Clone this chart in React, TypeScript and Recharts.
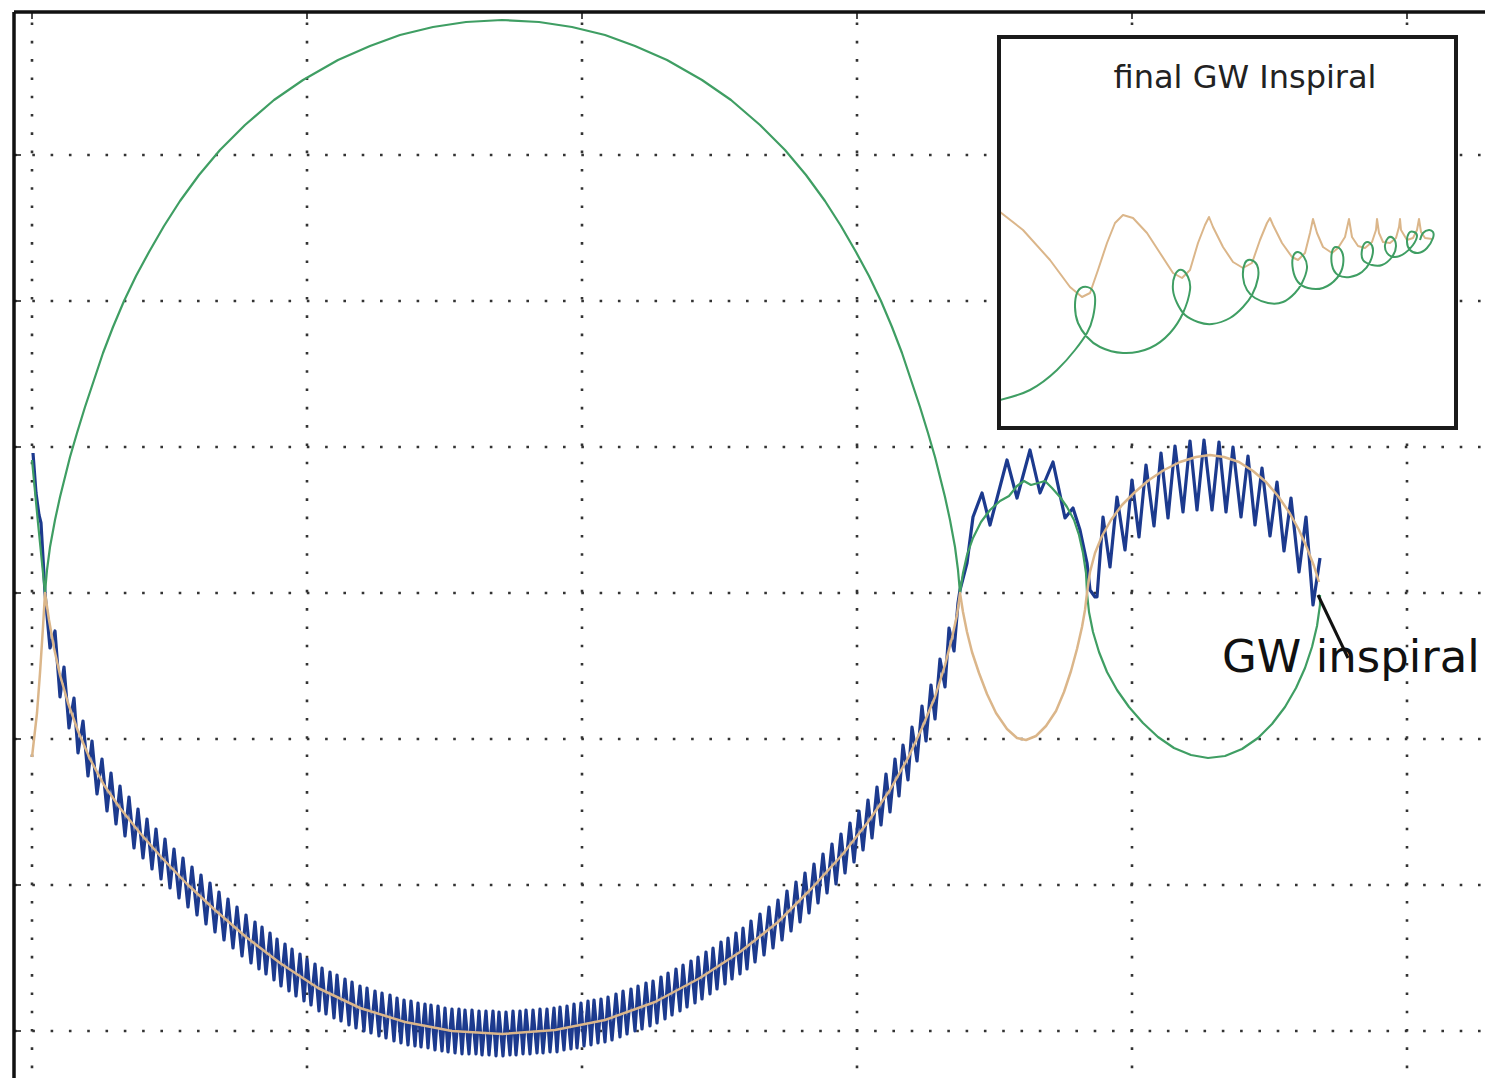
import React from 'react';
import { ComposedChart, Line, ReferenceLine, XAxis, YAxis } from 'recharts';

// axes extent and grid positions
const xDomain = [-18, 1470];
const yDomain = [-585, 581];
const xTicks = [0, 275, 550, 825, 1100, 1375];
const yTicks = [-438, -292, -146, 0, 146, 292, 438];

// [x, y] pairs, in the order the bodies travel
const greenOrbit = [
  [0, 133], [6, 70], [13, 0],
  [15, 23], [18, 46], [23, 73], [28, 96], [33, 116], [38, 136], [45, 160], [53, 186], [62, 213], [71, 240],
  [81, 266], [92, 292], [104, 317], [117, 341], [132, 367], [148, 392], [167, 418], [188, 443], [213, 468],
  [242, 493], [271, 513], [306, 533], [338, 547], [368, 558], [401, 566], [434, 571], [470, 573],
  [507, 571], [540, 566], [573, 558], [603, 547], [635, 533], [670, 513], [699, 493], [728, 468], [753, 443],
  [774, 418], [793, 392], [809, 367], [824, 341], [837, 317], [849, 292], [860, 266], [870, 240], [879, 213],
  [888, 186], [896, 160], [903, 136], [908, 116], [913, 96], [918, 73], [923, 46], [926, 23], [928, 0],
  [931, 20], [935, 38], [941, 55], [949, 71], [958, 83], [968, 92], [977, 97], [985, 107], [992, 112],
  [999, 108], [1006, 110], [1013, 112], [1020, 105], [1028, 96], [1035, 86], [1042, 73], [1047, 58],
  [1051, 40], [1054, 20], [1055, 0],
  [1057, -19], [1061, -39], [1067, -59], [1075, -79], [1085, -97], [1097, -114], [1111, -130], [1126, -144],
  [1142, -155], [1159, -162], [1176, -165], [1193, -163], [1210, -156], [1226, -145], [1240, -131],
  [1253, -114], [1264, -95], [1273, -75], [1280, -54], [1285, -33], [1288, -12], [1288, -2],
];

const tanOrbit = [
  [0, -164], [5, -120], [8, -80], [11, -34], [13, 0],
  [17, -27], [22, -55], [28, -82], [36, -110], [46, -138], [58, -166], [72, -192], [88, -215], [108, -240],
  [130, -265], [155, -291], [183, -317], [214, -344], [248, -370], [286, -395], [328, -415], [373, -429],
  [420, -438], [470, -441], [523, -437], [573, -427], [623, -409], [668, -385], [708, -359], [746, -329],
  [780, -295], [810, -262], [836, -229], [858, -197], [876, -165], [890, -135], [903, -104], [913, -72],
  [920, -45], [925, -22], [928, 0],
  [931, -19], [935, -39], [940, -59], [947, -80], [955, -101], [964, -120], [975, -136], [985, -145],
  [994, -147], [1004, -143], [1014, -133], [1024, -118], [1032, -99], [1039, -78], [1045, -56], [1050, -34],
  [1053, -17], [1055, 0],
  [1058, 21], [1063, 40], [1070, 57], [1079, 73], [1090, 88], [1103, 101], [1117, 113], [1132, 123],
  [1148, 131], [1164, 136], [1178, 138], [1192, 136], [1207, 131], [1221, 122], [1234, 111], [1246, 97],
  [1257, 81], [1267, 63], [1275, 45], [1282, 27], [1287, 11],
];

const blueOrbit = [
  [1, 140], [4, 100], [7, 78], [9, 70], [11, 35], [13, 0],
  [18, -55], [23, -38], [28, -104], [32, -74], [37, -135], [42, -105], [46, -160], [51, -128], [56, -183],
  [60, -148], [65, -201], [70, -166],
  [75, -218], [79, -180], [84, -231], [88, -193], [93, -243], [97, -204], [102, -255], [106, -216], [111, -265],
  [115, -226], [120, -276], [124, -236], [129, -286], [133, -246], [138, -295], [142, -256], [147, -305],
  [151, -265], [156, -314], [160, -274], [165, -322], [169, -282], [174, -331], [178, -290], [183, -339],
  [187, -299], [192, -347], [196, -306], [201, -355], [205, -314], [210, -363], [214, -322], [219, -370],
  [223, -329], [227, -376], [230, -334], [234, -381], [238, -340], [242, -387], [245, -346], [249, -393],
  [253, -351], [257, -398], [260, -356], [264, -403], [268, -361], [272, -408], [275, -366], [279, -412],
  [283, -371], [287, -418], [290, -375], [294, -421], [298, -379], [302, -425], [305, -382], [309, -428],
  [313, -386], [317, -432], [320, -389], [324, -435], [328, -393], [332, -438], [335, -395], [339, -440],
  [343, -398], [347, -443], [350, -400], [354, -445], [358, -402], [362, -448], [365, -405], [369, -450],
  [372, -407], [376, -452], [379, -408], [383, -453], [386, -410], [389, -454], [393, -411], [396, -455],
  [399, -412], [403, -457], [406, -413], [410, -458], [413, -415], [416, -459], [420, -416], [423, -460],
  [427, -416], [430, -461], [433, -417], [437, -461], [440, -417], [444, -461], [447, -418], [450, -462],
  [454, -418], [457, -462], [461, -418], [464, -463], [467, -419], [471, -463], [474, -419], [478, -462],
  [481, -418], [484, -462], [488, -418], [491, -461], [494, -417], [498, -461], [501, -417], [505, -460],
  [508, -416], [511, -460], [515, -416], [518, -459], [522, -415], [525, -459], [528, -414], [532, -457],
  [535, -413], [539, -456], [542, -411], [545, -455], [549, -410], [552, -453], [556, -408], [559, -452],
  [562, -407], [566, -450], [569, -406],
  [573, -449], [576, -404], [580, -447], [584, -401], [588, -444], [591, -398], [595, -441], [599, -396],
  [603, -438], [606, -393], [610, -436], [614, -390], [618, -433], [621, -388], [625, -430], [629, -384],
  [633, -426], [636, -380], [640, -422], [644, -376], [648, -418], [651, -372], [655, -414], [659, -368],
  [663, -410], [666, -364], [670, -406], [674, -359], [678, -401], [681, -355], [685, -396], [689, -349],
  [693, -391], [696, -345], [700, -386], [704, -340], [708, -381], [711, -335], [715, -376], [719, -328],
  [723, -369], [728, -321], [732, -362], [737, -314], [741, -355], [746, -307], [750, -347], [755, -298],
  [759, -338], [764, -289], [768, -329], [773, -280], [777, -320], [782, -271], [786, -310], [791, -261],
  [795, -300], [800, -251], [804, -291], [809, -241], [813, -280], [818, -230], [822, -269], [827, -218],
  [831, -257], [836, -207], [840, -245], [845, -194], [849, -232], [854, -181], [858, -219], [863, -166],
  [867, -203],
  [871, -152], [876, -187], [880, -134], [885, -168], [890, -113], [894, -148], [899, -92], [903, -126],
  [908, -66], [913, -94], [917, -35], [922, -58], [926, -10],
  [928, 3], [935, 30], [941, 76], [950, 100], [958, 68], [975, 133], [985, 95], [998, 143], [1008, 100],
  [1021, 131], [1033, 75], [1041, 85], [1048, 63], [1055, 30], [1058, 3], [1063, -4],
  [1065, -4], [1071, 76], [1078, 26], [1085, 96], [1093, 43], [1100, 113], [1107, 56], [1114, 128],
  [1122, 67], [1129, 140], [1136, 75], [1143, 147], [1151, 81], [1158, 152], [1165, 83], [1172, 153],
  [1180, 83], [1187, 151], [1194, 81], [1201, 146], [1209, 76], [1216, 137], [1223, 68], [1230, 125],
  [1238, 57], [1245, 111], [1252, 42], [1259, 95], [1267, 21], [1274, 76], [1281, -12], [1288, 35],
];

// inset: last stage of the inspiral
const insetTan = [
  [0, 215], [23, 197], [50, 167], [70, 140], [82, 130], [90, 134], [98, 157], [107, 184], [115, 204],
  [123, 212], [133, 209], [147, 194], [160, 174], [173, 154], [182, 149], [190, 157], [198, 184], [205, 202],
  [209, 210], [213, 200], [223, 180], [233, 165], [243, 159], [252, 164], [260, 187], [267, 204], [270, 209],
  [273, 202], [282, 184], [292, 170], [298, 167], [305, 174], [310, 194], [313, 208], [317, 194], [323, 180],
  [332, 174], [338, 179], [345, 190], [349, 208], [352, 190], [358, 181], [365, 179], [372, 185], [376, 197],
  [377, 208], [379, 194], [383, 185], [390, 184], [396, 189], [399, 200], [400, 208], [401, 197], [407, 187],
  [413, 189], [417, 197], [419, 208], [421, 195], [425, 189], [432, 188],
];

const insetGreen = [
  [0, 27], [30, 37], [57, 57], [75, 77], [87, 94], [93, 110], [95, 130], [90, 139], [83, 140], [77, 134],
  [75, 120], [78, 104], [87, 90], [100, 80], [123, 74], [150, 79], [170, 94], [183, 114], [190, 137],
  [188, 150], [182, 157], [175, 152], [173, 137], [177, 124], [185, 112], [198, 105], [212, 103], [230, 109],
  [243, 120], [252, 132], [258, 149], [257, 162], [251, 167], [245, 164], [243, 150], [247, 137], [255, 129],
  [268, 124], [283, 125], [295, 134], [302, 144], [307, 159], [304, 170], [298, 175], [293, 170], [293, 157],
  [298, 145], [308, 139], [323, 139], [337, 149], [343, 162], [342, 175], [336, 180], [332, 175], [332, 162],
  [338, 152], [350, 150], [362, 155], [370, 165], [373, 177], [370, 184], [365, 184], [362, 177], [363, 167],
  [372, 162], [382, 162], [392, 170], [396, 181], [393, 189], [388, 189], [385, 182], [387, 174], [395, 170],
  [405, 174], [413, 182], [417, 191], [414, 195], [409, 194], [407, 185], [410, 177], [418, 174], [427, 179],
  [433, 189], [433, 195], [429, 197], [423, 194], [420, 187],
];

const pointer = [[1286, -2], [1316, -65]];

const rows = (pairs: number[][]) => pairs.map(([x, y]) => ({ x, y }));

const GREEN = '#3f9e63';
const TAN = '#dbb68a';
const BLUE = '#1c3a8e';
const GRID = '#333';
const FONT = '"DejaVu Sans", sans-serif';

export default function App() {
  const [p0, p1] = pointer;
  const [xMin] = xDomain;
  const yMax = yDomain[1];
  return (
    <div
      style={{
        position: 'fixed',
        left: 0,
        top: 0,
        width: 1485,
        height: 1078,
        overflow: 'hidden',
        background: '#fff',
        fontFamily: FONT,
      }}
    >
      <ComposedChart width={1502} height={1178} margin={{ top: 12, right: 0, bottom: 0, left: 14 }}>
        <XAxis type="number" dataKey="x" domain={xDomain} ticks={xTicks} allowDataOverflow hide />
        <YAxis type="number" dataKey="y" domain={yDomain} ticks={yTicks} allowDataOverflow hide />

        {/* dotted grid */}
        {xTicks.map((v) => (
          <ReferenceLine key={`gx${v}`} x={v} stroke={GRID} strokeWidth={2.6} strokeDasharray="2.6 15.7" />
        ))}
        {yTicks.map((v) => (
          <ReferenceLine key={`gy${v}`} y={v} stroke={GRID} strokeWidth={2.6} strokeDasharray="2.6 15.7" />
        ))}

        <Line
          data={rows(blueOrbit)}
          dataKey="y"
          type="linear"
          stroke={BLUE}
          strokeWidth={3.2}
          strokeLinejoin="round"
          dot={false}
          activeDot={false}
          isAnimationActive={false}
        />
        <Line
          data={rows(greenOrbit)}
          dataKey="y"
          type="linear"
          stroke={GREEN}
          strokeWidth={2.2}
          strokeLinejoin="round"
          dot={false}
          activeDot={false}
          isAnimationActive={false}
        />
        <Line
          data={rows(tanOrbit)}
          dataKey="y"
          type="linear"
          stroke={TAN}
          strokeWidth={2.5}
          strokeLinejoin="round"
          dot={false}
          activeDot={false}
          isAnimationActive={false}
        />

        <ReferenceLine
          segment={[{ x: p0[0], y: p0[1] }, { x: p1[0], y: p1[1] }]}
          stroke="#111"
          strokeWidth={3}
          ifOverflow="visible"
        />

        {/* frame and inward ticks */}
        <ReferenceLine x={xMin} stroke="#111" strokeWidth={3.5} />
        <ReferenceLine y={yMax} stroke="#111" strokeWidth={3.5} />
        {yTicks.map((v) => (
          <ReferenceLine
            key={`ty${v}`}
            segment={[{ x: xMin, y: v }, { x: xMin + 7, y: v }]}
            stroke="#111"
            strokeWidth={1.5}
          />
        ))}
        {xTicks.map((v) => (
          <ReferenceLine
            key={`tx${v}`}
            segment={[{ x: v, y: yMax }, { x: v, y: yMax - 7 }]}
            stroke="#111"
            strokeWidth={1.5}
          />
        ))}
      </ComposedChart>

      <div
        style={{
          position: 'absolute',
          left: 997,
          top: 35,
          width: 461,
          height: 395,
          border: '4px solid #1a1a1a',
          boxSizing: 'border-box',
          background: '#fff',
        }}
      >
        <ComposedChart width={453} height={387} margin={{ top: 0, right: 0, bottom: 0, left: 0 }}>
          <XAxis type="number" dataKey="x" domain={[1, 454]} hide allowDataOverflow />
          <YAxis type="number" dataKey="y" domain={[1, 388]} hide allowDataOverflow />
          <Line
            data={rows(insetTan)}
            dataKey="y"
            type="linear"
            stroke={TAN}
            strokeWidth={2}
            strokeLinejoin="round"
            dot={false}
            activeDot={false}
            isAnimationActive={false}
          />
          <Line
            data={rows(insetGreen)}
            dataKey="y"
            type="natural"
            stroke={GREEN}
            strokeWidth={2}
            dot={false}
            activeDot={false}
            isAnimationActive={false}
          />
        </ComposedChart>
      </div>

      <svg
        width={1485}
        height={1078}
        style={{ position: 'absolute', left: 0, top: 0, pointerEvents: 'none' }}
      >
        <text x={1245} y={88} textAnchor="middle" fontSize={32} fill="#222" fontFamily={FONT}>
          final GW Inspiral
        </text>
        <text x={1222} y={672} fontSize={45} fill="#111" fontFamily={FONT}>
          GW inspiral
        </text>
      </svg>
    </div>
  );
}
